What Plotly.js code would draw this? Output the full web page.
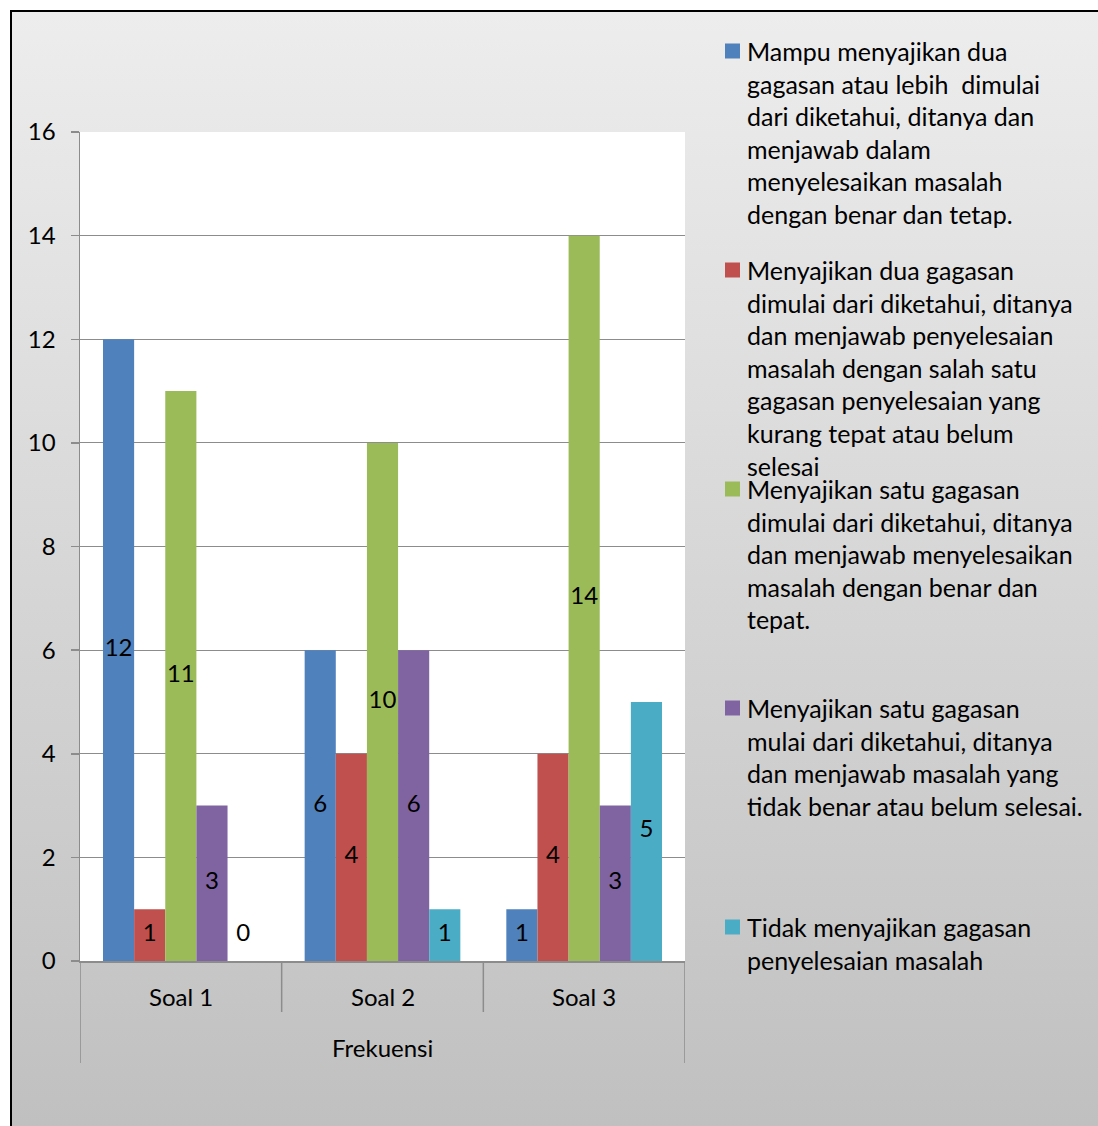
<!DOCTYPE html>
<html>
<head>
<meta charset="utf-8">
<script src="https://cdn.plot.ly/plotly-3.0.1.min.js"></script>
<style>
  html, body { margin:0; padding:0; background:#ffffff; width:1098px; height:1126px; overflow:hidden; }
  #frame { position:absolute; left:10px; top:10px; width:1200px; height:1140px;
           border:2px solid #000; box-sizing:border-box;
           background:linear-gradient(to bottom, #ededed 0%, #bfbfbf 100%); }
  #chart { position:absolute; left:0; top:0; width:1098px; height:1126px; }
</style>
</head>
<body>
<div id="frame"></div>
<div id="chart"></div>
<script>
// ---- data ----
const categories = ["Soal 1", "Soal 2", "Soal 3"];
const groupLabel = "Frekuensi";
const seriesColors = ["#4f81bd", "#c0504d", "#9bbb59", "#8064a2", "#4bacc6"];
const s1 = [12, 6, 1];   // Mampu menyajikan dua gagasan ...
const s2 = [1, 4, 4];    // Menyajikan dua gagasan ...
const s3 = [11, 10, 14]; // Menyajikan satu gagasan ... benar dan tepat
const s4 = [3, 6, 3];    // Menyajikan satu gagasan ... tidak benar
const s5 = [0, 1, 5];    // Tidak menyajikan gagasan
const seriesValues = [s1, s2, s3, s4, s5];
const legendLines = [
  ["Mampu menyajikan dua", "gagasan atau lebih  dimulai", "dari diketahui, ditanya dan", "menjawab dalam", "menyelesaikan masalah", "dengan benar dan tetap."],
  ["Menyajikan dua gagasan", "dimulai dari diketahui, ditanya", "dan menjawab penyelesaian", "masalah dengan salah satu", "gagasan penyelesaian yang", "kurang tepat atau belum", "selesai"],
  ["Menyajikan satu gagasan", "dimulai dari diketahui, ditanya", "dan menjawab menyelesaikan", "masalah dengan benar dan", "tepat."],
  ["Menyajikan satu gagasan", "mulai dari diketahui, ditanya", "dan menjawab masalah yang", "tidak benar atau belum selesai."],
  ["Tidak menyajikan gagasan", "penyelesaian masalah"]
];
const yTicks = [0, 2, 4, 6, 8, 10, 12, 14, 16];

// ---- layout constants ----
const W = 1098, H = 1126;
const M = { l: 80, r: 413, t: 132, b: 165 };
const PW = W - M.l - M.r, PH = H - M.t - M.b;
const FONT = "Lato, 'Open Sans', sans-serif";
const FS = 24, LFS = 25;
const GRID = "#8c8c8c";
const bargap = 0.228;
const nS = seriesValues.length;
const bw = (1 - bargap) / nS;
const xIdx = categories.map((c, i) => i);

const px2py = (py) => (M.t + PH - py) / PH;   // pixel y -> paper y
const px2px = (px) => (px - M.l) / PW;        // pixel x -> paper x

const traces = [];
seriesValues.forEach((vals, j) => {
  traces.push({
    type: "bar", x: xIdx, y: vals, name: legendLines[j].join(" "),
    marker: { color: seriesColors[j], line: { width: 0 } },
    hoverinfo: "x+y", showlegend: false
  });
});
// data labels centred in each bar
seriesValues.forEach((vals, j) => {
  traces.push({
    type: "scatter", mode: "text",
    x: xIdx.map(i => i + (j - (nS - 1) / 2) * bw),
    y: vals.map(v => (v > 0 ? v / 2 : 0.5)),
    text: vals.map(String),
    textposition: "middle center",
    textfont: { family: FONT, size: FS, color: "#000" },
    hoverinfo: "skip", showlegend: false, cliponaxis: false
  });
});

const shapes = [];
const annotations = [];
// category dividers below axis
for (let k = 0; k <= categories.length; k++) {
  const outer = (k === 0 || k === categories.length);
  shapes.push({ type: "line", xref: "x", yref: "paper", x0: k - 0.5, x1: k - 0.5,
    y0: 0, y1: px2py(outer ? 1063 : 1012), line: { color: GRID, width: 1.5 } });
}
// category labels
categories.forEach((c, i) => {
  annotations.push({ xref: "x", yref: "paper", x: i, y: px2py(996), text: c,
    showarrow: false, xanchor: "center", yanchor: "middle",
    font: { family: FONT, size: FS, color: "#000" } });
});
annotations.push({ xref: "paper", yref: "paper", x: 0.5, y: px2py(1047), text: groupLabel,
  showarrow: false, xanchor: "center", yanchor: "middle",
  font: { family: FONT, size: FS, color: "#000" } });

// custom legend (Excel-style, evenly spaced entries)
const legTop = 51, legStep = 219, lineH = 32.6;
legendLines.forEach((lines, k) => {
  const cy = legTop + k * legStep;
  shapes.push({ type: "rect", xref: "paper", yref: "paper",
    x0: px2px(725), x1: px2px(740), y0: px2py(cy - 7.5), y1: px2py(cy + 7.5),
    fillcolor: seriesColors[k], line: { width: 0 } });
  lines.forEach((ln, m) => {
    annotations.push({ xref: "paper", yref: "paper", x: px2px(745), y: px2py(cy + m * lineH),
      text: ln, showarrow: false, xanchor: "left", yanchor: "middle",
      font: { family: FONT, size: LFS, color: "#000" } });
  });
});

const layout = {
  width: W, height: H,
  margin: M,
  paper_bgcolor: "rgba(0,0,0,0)",
  plot_bgcolor: "#ffffff",
  barmode: "group", bargap: bargap, bargroupgap: 0,
  showlegend: false,
  font: { family: FONT, size: FS, color: "#000" },
  xaxis: {
    range: [-0.5, categories.length - 0.5], showticklabels: false, ticks: "",
    showgrid: false, zeroline: false, showline: true, linecolor: GRID, linewidth: 1.5,
    fixedrange: true
  },
  yaxis: {
    range: [0, 16], tickvals: yTicks, ticktext: yTicks.map(String),
    ticks: "outside", ticklen: 8, tickcolor: GRID, tickwidth: 1.5,
    showgrid: true, gridcolor: GRID, gridwidth: 1.2, zeroline: false,
    showline: true, linecolor: GRID, linewidth: 1.5,
    tickfont: { family: FONT, size: FS, color: "#000" }, ticklabelstandoff: 10,
    fixedrange: true
  },
  shapes: shapes,
  annotations: annotations
};

Plotly.newPlot("chart", traces, layout, { displayModeBar: false, staticPlot: true });
</script>
</body>
</html>
